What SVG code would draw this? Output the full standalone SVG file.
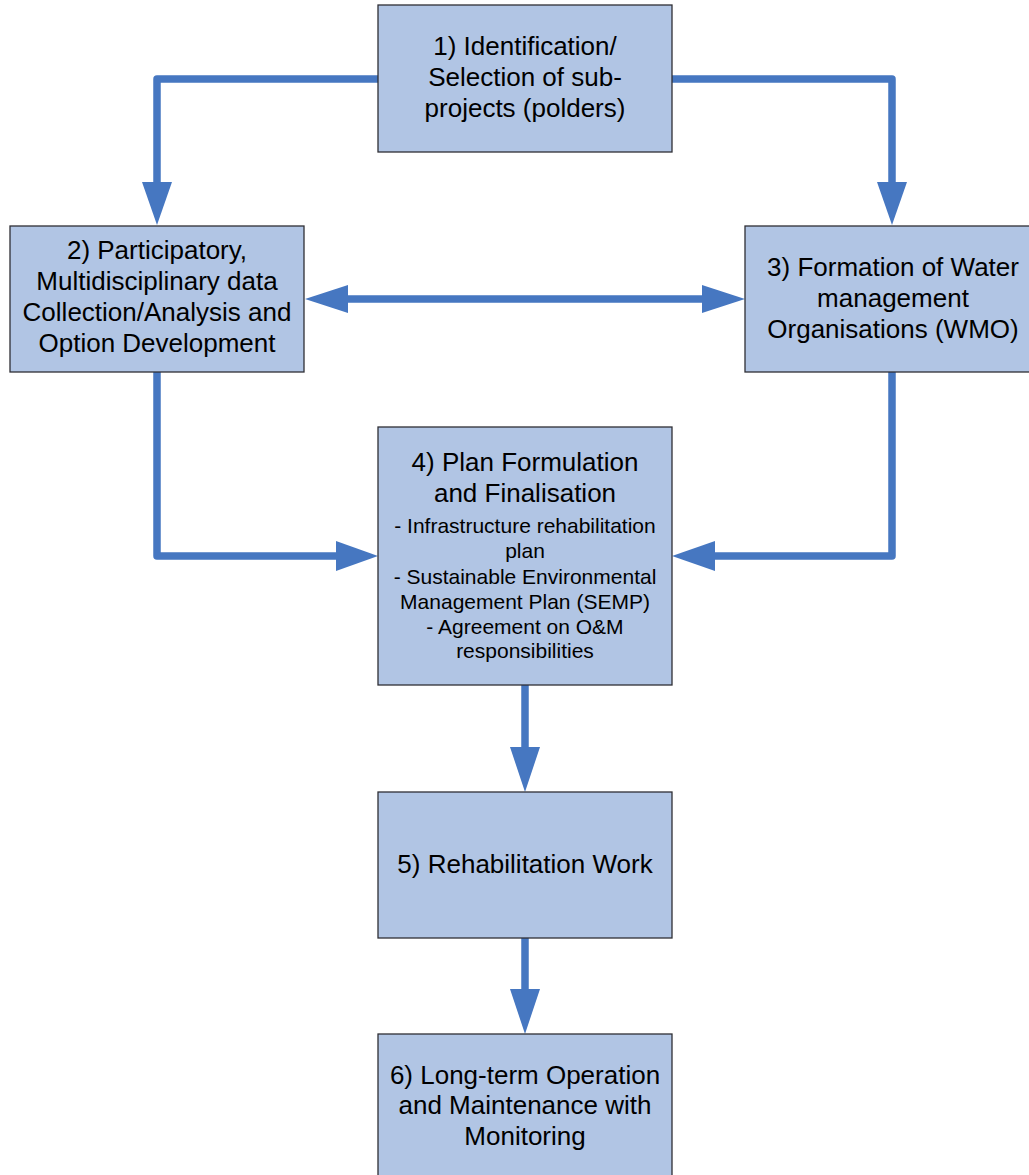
<svg xmlns="http://www.w3.org/2000/svg" width="1029" height="1175" viewBox="0 0 1029 1175">
<style>
.box{fill:#B1C5E4;stroke:#2F2F35;stroke-width:1.3}
.t{font-family:"Liberation Sans",Arial,sans-serif;font-size:26px;fill:#000;text-anchor:middle}
.s{font-size:21px}
.ln{fill:none;stroke:#4677C1;stroke-width:7.5;stroke-linejoin:round;stroke-linecap:round}
.hd{fill:#4677C1}
</style>
<rect width="1029" height="1175" fill="#fff"/>
<g id="connectors">
<polyline class="ln" points="378,79 157,79 157,186"/>
<polygon class="hd" points="142,182 172,182 157,225"/>
<polyline class="ln" points="672,79 892,79 892,186"/>
<polygon class="hd" points="877,182 907,182 892,225"/>
<line class="ln" x1="346" y1="299" x2="704" y2="299" stroke-linecap="butt"/>
<polygon class="hd" points="305,299 348,285 348,313"/>
<polygon class="hd" points="745,299 702,285 702,313"/>
<polyline class="ln" points="157,372 157,556 338,556"/>
<polygon class="hd" points="378,556 336,541 336,571"/>
<polyline class="ln" points="892,372 892,556 713,556"/>
<polygon class="hd" points="672,556 715,541 715,571"/>
<polyline class="ln" points="525,685 525,750"/>
<polygon class="hd" points="510,747 540,747 525,792"/>
<polyline class="ln" points="525,938 525,992"/>
<polygon class="hd" points="510,989 540,989 525,1034"/>
</g>
<g id="node1">
<rect class="box" x="378" y="5" width="294" height="147"/>
<text class="t" x="525" y="55">1) Identification/</text>
<text class="t" x="525" y="86">Selection of sub-</text>
<text class="t" x="525" y="117">projects (polders)</text>
</g>
<g id="node2">
<rect class="box" x="10" y="226" width="294" height="146"/>
<text class="t" x="157" y="259">2) Participatory,</text>
<text class="t" x="157" y="290">Multidisciplinary data</text>
<text class="t" x="157" y="321">Collection/Analysis and</text>
<text class="t" x="157" y="352">Option Development</text>
</g>
<g id="node3">
<rect class="box" x="745" y="226" width="294" height="146"/>
<text class="t" x="893" y="276">3) Formation of Water</text>
<text class="t" x="893" y="307">management</text>
<text class="t" x="893" y="338">Organisations (WMO)</text>
</g>
<g id="node4">
<rect class="box" x="378" y="427" width="294" height="258"/>
<text class="t" x="525" y="471">4) Plan Formulation</text>
<text class="t" x="525" y="502">and Finalisation</text>
<text class="t s" x="525" y="533">- Infrastructure rehabilitation</text>
<text class="t s" x="525" y="558">plan</text>
<text class="t s" x="525" y="584">- Sustainable Environmental</text>
<text class="t s" x="525" y="609">Management Plan (SEMP)</text>
<text class="t s" x="525" y="634">- Agreement on O&amp;M</text>
<text class="t s" x="525" y="658">responsibilities</text>
</g>
<g id="node5">
<rect class="box" x="378" y="792" width="294" height="146"/>
<text class="t" x="525" y="873">5) Rehabilitation Work</text>
</g>
<g id="node6">
<rect class="box" x="378" y="1034" width="294" height="160"/>
<text class="t" x="525" y="1084">6) Long-term Operation</text>
<text class="t" x="525" y="1114">and Maintenance with</text>
<text class="t" x="525" y="1145">Monitoring</text>
</g>
</svg>
